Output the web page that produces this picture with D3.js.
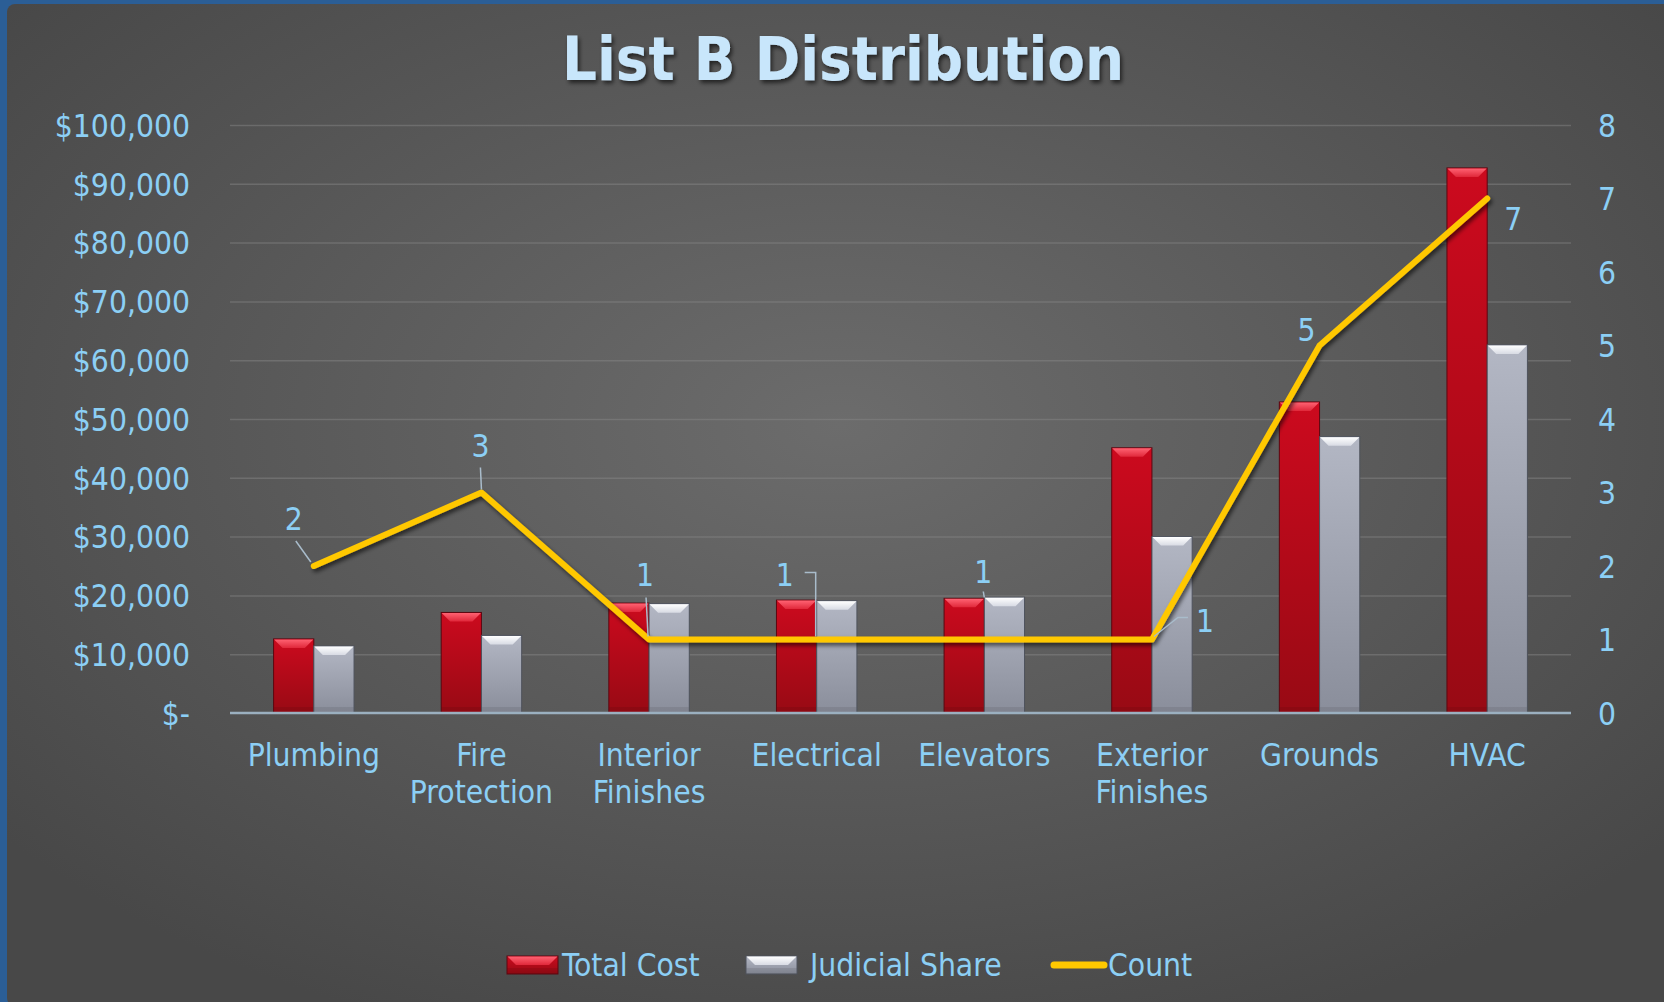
<!DOCTYPE html>
<html>
<head>
<meta charset="utf-8">
<script src="https://cdn.jsdelivr.net/npm/d3@7/dist/d3.min.js"></script>
<style>
  html, body { margin: 0; padding: 0; background: #2b5e96; }
  svg { display: block; }
  text { font-family: "DejaVu Sans Condensed", "Noto Sans", sans-serif; }
</style>
</head>
<body>
<svg id="chart" width="1664" height="1002"></svg>
<script>
"use strict";

// values
const categories = ["Plumbing", "Fire Protection", "Interior Finishes", "Electrical",
  "Elevators", "Exterior Finishes", "Grounds", "HVAC"];
const totalCost = [12600, 17100, 18700, 19200, 19500, 45100, 52900, 92700];
const judicialShare = [11400, 13200, 18600, 19100, 19700, 30000, 47000, 62600];
const count = [2, 3, 1, 1, 1, 1, 5, 7];
const dollarTicks = [0, 10000, 20000, 30000, 40000, 50000, 60000, 70000, 80000, 90000, 100000];
const countTicks = [0, 1, 2, 3, 4, 5, 6, 7, 8];
const seriesNames = ["Total Cost", "Judicial Share", "Count"];

const W = 1664, H = 1002,
  margin = {top: 125, right: 93, bottom: 289, left: 230},
  labelColor = "#8ccff5",
  fs = 31.5;

let svg = d3.select("#chart"),
  defs = svg.append("defs");

// background panel
let bg = defs.append("radialGradient").attr("id", "bg")
  .attr("cx", "0.5").attr("cy", "0.42").attr("r", "0.65");
bg.append("stop").attr("offset", "0").attr("stop-color", "#6c6c6c");
bg.append("stop").attr("offset", "1").attr("stop-color", "#484848");

let shadow = defs.append("filter").attr("id", "shadow")
  .attr("x", "-10%").attr("y", "-10%").attr("width", "130%").attr("height", "140%");
shadow.append("feDropShadow").attr("dx", 2).attr("dy", 3).attr("stdDeviation", 2)
  .attr("flood-color", "#000").attr("flood-opacity", 0.6);

function barGrad(id, top, bottom) {
  let g = defs.append("linearGradient").attr("id", id)
    .attr("x1", 0).attr("y1", 0).attr("x2", 0).attr("y2", 1);
  g.append("stop").attr("offset", "0").attr("stop-color", top);
  g.append("stop").attr("offset", "1").attr("stop-color", bottom);
}
barGrad("redBody", "#cc0a1e", "#980a14");
barGrad("greyBody", "#b3b7c4", "#8a8e9b");
barGrad("redCap", "#ff6272", "#e0283a");
barGrad("greyCap", "#ffffff", "#d8dbe4");

const styles = {
  "Total Cost": {body: "url(#redBody)", cap: "url(#redCap)", edge: "#5c0710"},
  "Judicial Share": {body: "url(#greyBody)", cap: "url(#greyCap)", edge: "#4e525c"}
};

svg.append("rect")
  .attr("x", 7).attr("y", 4)
  .attr("width", W).attr("height", H)
  .attr("rx", 8)
  .attr("fill", "url(#bg)");

let width = W - margin.left - margin.right,
  height = H - margin.top - margin.bottom;

let x = d3.scaleBand().domain(categories).range([margin.left, margin.left + width]),
  groupW = x.bandwidth() * 0.48,
  x1 = d3.scaleBand().domain(["Total Cost", "Judicial Share"]).range([0, groupW]),
  y = d3.scaleLinear().domain([0, 100000]).range([margin.top + height, margin.top]),
  y2 = d3.scaleLinear().domain([0, 8]).range([margin.top + height, margin.top]);

// title
let title = svg.append("text")
  .attr("x", 843).attr("y", 80)
  .attr("text-anchor", "middle")
  .attr("fill", "#c8e6fb")
  .attr("font-weight", "bold")
  .attr("font-size", 61)
  .attr("filter", "url(#shadow)")
  .text("List B Distribution");
let tw = title.node().getComputedTextLength();
if (tw > 565) title.attr("font-size", 61 * 565 / tw);

// grid
svg.append("g")
  .attr("transform", "translate(" + margin.left + ",0)")
  .call(d3.axisLeft(y).tickValues(dollarTicks.slice(1)).tickSize(-width).tickFormat(""))
  .call(g => g.select(".domain").remove())
  .selectAll("line")
  .attr("stroke", "#8a8a8a").attr("stroke-opacity", 0.45).attr("stroke-width", 1.5);

// left axis labels
let fmt = d3.format(",");
svg.append("g")
  .attr("transform", "translate(190,0)")
  .call(d3.axisLeft(y).tickValues(dollarTicks).tickSize(0).tickPadding(0)
    .tickFormat(d => d === 0 ? "$-   " : "$" + fmt(d)))
  .call(g => g.select(".domain").remove())
  .selectAll("text")
  .attr("fill", labelColor).attr("font-size", fs)
  .attr("font-family", null)
  .attr("dy", "0.36em");

// right axis labels
svg.append("g")
  .attr("transform", "translate(1598,0)")
  .call(d3.axisRight(y2).tickValues(countTicks).tickSize(0).tickPadding(0))
  .call(g => g.select(".domain").remove())
  .selectAll("text")
  .attr("fill", labelColor).attr("font-size", fs)
  .attr("font-family", null)
  .attr("dy", "0.36em");

// bars
function drawBar(sel, bx, by, bw, bh, st) {
  let bev = Math.min(9, bh);
  sel.append("rect")
    .attr("x", bx).attr("y", by).attr("width", bw).attr("height", bh)
    .attr("fill", st.body).attr("stroke", st.edge).attr("stroke-width", 1);
  sel.append("rect")
    .attr("x", bx + 0.5).attr("y", by + bh - 6).attr("width", bw - 1).attr("height", 6)
    .attr("fill", "#000").attr("opacity", 0.08);
  sel.append("path")
    .attr("d", "M" + (bx + 0.5) + "," + (by + 0.5) + "H" + (bx + bw - 0.5) +
      "L" + (bx + bw - bev) + "," + (by + bev) + "H" + (bx + bev) + "Z")
    .attr("fill", st.cap);
}

let groups = svg.append("g").selectAll("g")
  .data(categories)
  .enter().append("g")
  .attr("transform", d => "translate(" + (x(d) + (x.bandwidth() - groupW) / 2) + ",0)");

groups.each(function(d, i) {
  let g = d3.select(this);
  [["Total Cost", totalCost[i]], ["Judicial Share", judicialShare[i]]].forEach(function(s) {
    drawBar(g, x1(s[0]), y(s[1]), x1.bandwidth(), y(0) - y(s[1]), styles[s[0]]);
  });
});

// baseline
svg.append("line")
  .attr("x1", margin.left).attr("x2", margin.left + width)
  .attr("y1", y(0)).attr("y2", y(0))
  .attr("stroke", "#9bb0c0").attr("stroke-width", 2.5);

// category labels
let xAxis = svg.append("g")
  .attr("transform", "translate(0," + (y(0) + 20) + ")")
  .call(d3.axisBottom(x).tickSize(0).tickPadding(0));
xAxis.select(".domain").remove();
xAxis.selectAll("text")
  .attr("fill", labelColor).attr("font-size", fs)
  .attr("font-family", null)
  .attr("y", 0).attr("dy", 0)
  .each(function(d) {
    let t = d3.select(this).text(null);
    d.split(" ").forEach(function(w, k) {
      t.append("tspan").attr("x", 0).attr("y", 33 + k * 37).text(w);
    });
  });

// count line
let cx = d => x(d) + x.bandwidth() / 2;
let line = d3.line().x((d, i) => cx(categories[i])).y(d => y2(d));
svg.append("path")
  .datum(count)
  .attr("d", line)
  .attr("fill", "none")
  .attr("stroke", "#ffc800")
  .attr("stroke-width", 6)
  .attr("stroke-linejoin", "round")
  .attr("stroke-linecap", "round")
  .attr("filter", "url(#shadow)");

// count data labels with their leader lines
const nudge = {
  "Plumbing": {dx: -20, dy: -47, leader: [[-18, -25], [-3, -4]]},
  "Fire Protection": {dx: -1, dy: -47, leader: [[-1, -25], [0, -3]]},
  "Interior Finishes": {dx: -4, dy: -65, leader: [[-3, -42], [-1, -3]]},
  "Electrical": {dx: -32, dy: -65, leader: [[-12, -67], [-1, -67], [-1, -3]]},
  "Elevators": {dx: -1, dy: -68, leader: [[-1, -48], [0, -42]]},
  "Exterior Finishes": {dx: 53, dy: -19, leader: [[2, -3], [26, -22], [36, -22]]},
  "Grounds": {dx: -13, dy: -16},
  "HVAC": {dx: 26, dy: 20}
};

let lbl = svg.append("g");
count.forEach(function(c, i) {
  let name = categories[i], n = nudge[name],
    px = cx(name), py = y2(c);
  if (n.leader) {
    lbl.append("path")
      .attr("d", d3.line()(n.leader.map(p => [px + p[0], py + p[1]])))
      .attr("fill", "none")
      .attr("stroke", "#a9bccb")
      .attr("stroke-width", 1.5);
  }
  lbl.append("text")
    .attr("x", px + n.dx).attr("y", py + n.dy)
    .attr("dy", "0.36em")
    .attr("text-anchor", "middle")
    .attr("fill", labelColor)
    .attr("font-size", fs)
    .text(c);
});

// legend
let legend = svg.append("g").attr("transform", "translate(0,965)");
let items = [
  {name: seriesNames[0], sx: 507, tx: 562},
  {name: seriesNames[1], sx: 746, tx: 810},
  {name: seriesNames[2], sx: 1051, tx: 1108}
];
items.forEach(function(it) {
  if (styles[it.name]) {
    drawBar(legend, it.sx, -9, 51, 18, styles[it.name]);
  } else {
    legend.append("line")
      .attr("x1", it.sx + 3).attr("x2", it.sx + 53)
      .attr("y1", 0).attr("y2", 0)
      .attr("stroke", "#ffc800").attr("stroke-width", 7)
      .attr("stroke-linecap", "round");
  }
  legend.append("text")
    .attr("x", it.tx).attr("y", 0)
    .attr("dy", "0.36em")
    .attr("fill", labelColor)
    .attr("font-size", fs)
    .text(it.name);
});
</script>
</body>
</html>
